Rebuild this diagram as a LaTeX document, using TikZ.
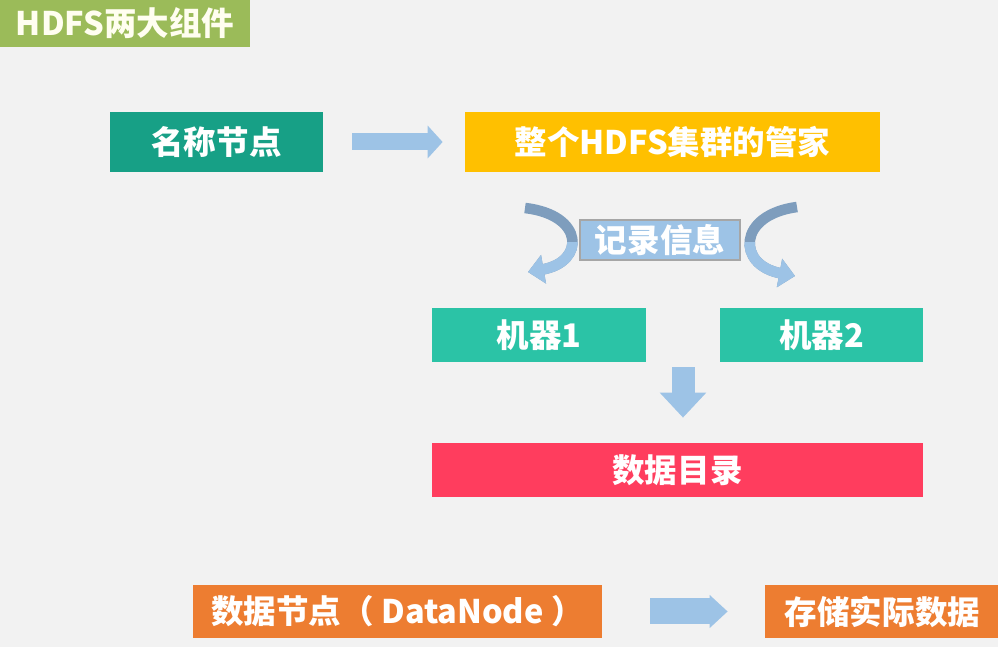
\documentclass[tikz,border=0pt]{standalone}
\usepackage{fontspec}
\setmainfont{Noto Sans CJK SC}
\usepackage{xcolor}
\usepackage{tikz}
\usetikzlibrary{positioning, arrows.meta, calc}
\definecolor{hdBg}{HTML}{F2F2F2}
\definecolor{hdGreen}{HTML}{9BBB59}
\definecolor{hdTeal}{HTML}{17A086}
\definecolor{hdTealLight}{HTML}{2BC3A6}
\definecolor{hdGold}{HTML}{FFC000}
\definecolor{hdRed}{HTML}{FF3D5E}
\definecolor{hdOrange}{HTML}{ED7D31}
\definecolor{hdBlue}{HTML}{9DC3E6}
\definecolor{hdBlueDark}{HTML}{7E9DBD}
\definecolor{hdGrey}{HTML}{A6A6A6}
\tikzset{
  box/.style={
    rectangle, fill=#1, draw=none,
    inner sep=0pt,
    text=white, align=center,
    font=\fontsize{18.5pt}{20pt}\selectfont\bfseries
  },
  blockarrow/.style={
    hdBlue
  },
  bendarrow/.style={
    -{Triangle[length=9pt, width=16pt]}, #1, line width=6pt
  }
}
\begin{document}
\begin{tikzpicture}
  \fill[hdBg] (0,0) rectangle (19.96,-12.94);
  \useasboundingbox (0,0) rectangle (19.96,-12.94);

  \node[box=hdGreen, minimum width=5cm, minimum height=0.94cm, text=yellow!6] (title) at (2.5,-0.47) {HDFS两大组件};

  \node[box=hdTeal, minimum width=4.26cm, minimum height=1.2cm] (name) at (4.33,-2.84) {名称节点};
  \node[box=hdGold, minimum width=8.3cm, minimum height=1.2cm] (manager) at (13.45,-2.84) {整个HDFS集群的管家};
  \node[box=hdBlue, draw=hdGrey, line width=1.2pt, minimum width=3.2cm, minimum height=0.8cm] (record) at (13.2,-4.8) {记录信息};
  \node[box=hdTealLight, minimum width=4.28cm, minimum height=1.08cm] (m1) at (10.78,-6.7) {机器1};
  \node[box=hdTealLight, minimum width=4.06cm, minimum height=1.08cm] (m2) at (16.43,-6.7) {机器2};
  \node[box=hdRed, minimum width=9.82cm, minimum height=1.08cm] (dir) at (13.55,-9.4) {数据目录};
  \node[box=hdOrange, minimum width=8.18cm, minimum height=1.06cm] (dn) at (7.95,-12.23) {数据节点（ DataNode ）};
  \node[box=hdOrange, minimum width=4.7cm, minimum height=1.06cm] (store) at (17.65,-12.23) {存储实际数据};

  % block arrows
  \draw[blockarrow, line width=0.34cm, arrows={-Triangle[length=0.3cm, width=0.64cm]},
        shorten <=0.58cm, shorten >=0.44cm] (name) -- (manager);
  \draw[blockarrow, line width=0.52cm, arrows={-Triangle[length=0.36cm, width=0.64cm]},
        shorten <=0.96cm, shorten >=0.74cm] (dn) -- (store);
  \coordinate (mid) at ($(m1.south east)!0.5!(m2.south west)$);
  \draw[blockarrow, line width=0.46cm, arrows={-Triangle[length=0.5cm, width=0.9cm]},
        shorten <=0.1cm, shorten >=0.5cm] (mid) -- (mid |- dir.north);

  % bent arrows round the label, dark on top and light below
  \coordinate (lefttop) at (10.5,-4.16);
  \coordinate (leftend) at (10.56,-5.44);
  \coordinate (righttop) at (15.94,-4.14);
  \coordinate (rightend) at (15.9,-5.52);
  \draw[bendarrow=hdBlueDark] (lefttop) .. controls (11.7,-4.3) and (11.7,-5.24) .. (leftend);
  \draw[bendarrow=hdBlueDark] (righttop) .. controls (14.74,-4.3) and (14.74,-5.3) .. (rightend);
  \begin{scope}
    \clip (10,-4.85) rectangle (17,-6);
    \draw[bendarrow=hdBlue] (lefttop) .. controls (11.7,-4.3) and (11.7,-5.24) .. (leftend);
    \draw[bendarrow=hdBlue] (righttop) .. controls (14.74,-4.3) and (14.74,-5.3) .. (rightend);
  \end{scope}
\end{tikzpicture}
\end{document}
